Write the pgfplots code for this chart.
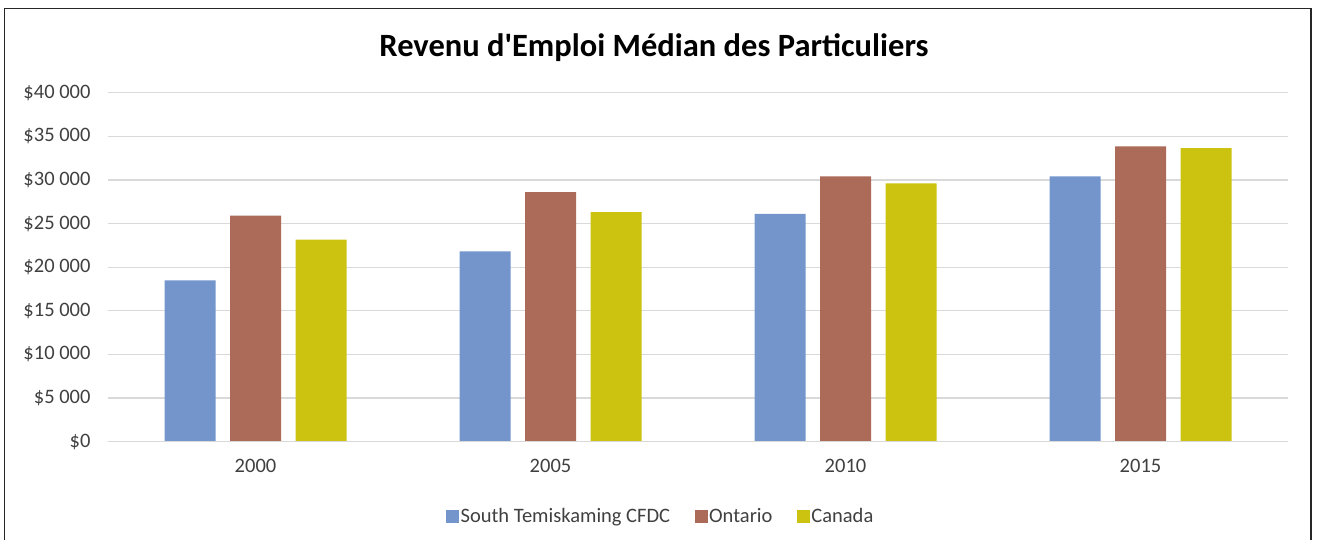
\documentclass[border=0pt]{standalone}
\usepackage{pgfplots}
\pgfplotsset{compat=1.18}
\usepackage{fontspec}
\setmainfont{Carlito}[Ligatures=TeXOff]
\definecolor{cblue}{HTML}{7395CC}
\definecolor{cbrown}{HTML}{AC6A58}
\definecolor{cyellow}{HTML}{CCC310}
\definecolor{cgrid}{HTML}{D9D9D9}
\definecolor{ctext}{HTML}{404040}
\begin{document}
\begin{tikzpicture}[x=1pt,y=1pt]
\useasboundingbox (0,0) rectangle (1317,539);
\draw[line width=1.8pt,color=black!85] (4.5,-5) -- (4.5,530.5) -- (1311,530.5) -- (1311,-5);
\node[font=\fontsize{32.5}{38}\selectfont\bfseries] at (654,491) {Revenu d'Emploi Médian des Particuliers};
\begin{axis}[
  at={(108pt,97.3pt)}, anchor=south west,
  scale only axis, width=1180pt, height=349pt,
  ybar=14.5pt, bar width=51pt,
  xmin=-0.5, xmax=3.5, ymin=0, ymax=40000,
  scaled y ticks=false,
  xtick={0,1,2,3}, xticklabels={2000,2005,2010,2015},
  ytick={0,5000,10000,15000,20000,25000,30000,35000,40000},
  yticklabels={\$0,\$5 000,\$10 000,\$15 000,\$20 000,\$25 000,\$30 000,\$35 000,\$40 000},
  major tick length=0pt,
  ymajorgrids, grid style={cgrid, line width=1.3pt},
  axis line style={draw=none},
  tick label style={font=\fontsize{20.5}{24}\selectfont, text=ctext},
  yticklabel style={xshift=-14pt},
  xticklabel style={yshift=-14pt},
  legend style={at={(0.4682,-0.213)}, anchor=center, draw=none, fill=none,
    legend columns=-1, font=\fontsize{20.5}{24}\selectfont, text=ctext,
    nodes={inner sep=1.5pt},
    /tikz/every even column/.append style={column sep=23pt}},
  legend image code/.code={\fill[#1] (0pt,-6.5pt) rectangle (13pt,6.5pt);},
]
\addplot[fill=cblue, draw=none] coordinates {(0,18500) (1,21800) (2,26100) (3,30400)};
\addplot[fill=cbrown, draw=none] coordinates {(0,25900) (1,28600) (2,30400) (3,33850)};
\addplot[fill=cyellow, draw=none] coordinates {(0,23150) (1,26300) (2,29600) (3,33650)};
\legend{South Temiskaming CFDC,Ontario,Canada}
\draw[cgrid, line width=1.3pt] (rel axis cs:0,0) -- (rel axis cs:1,0);
\end{axis}
\end{tikzpicture}
\end{document}
